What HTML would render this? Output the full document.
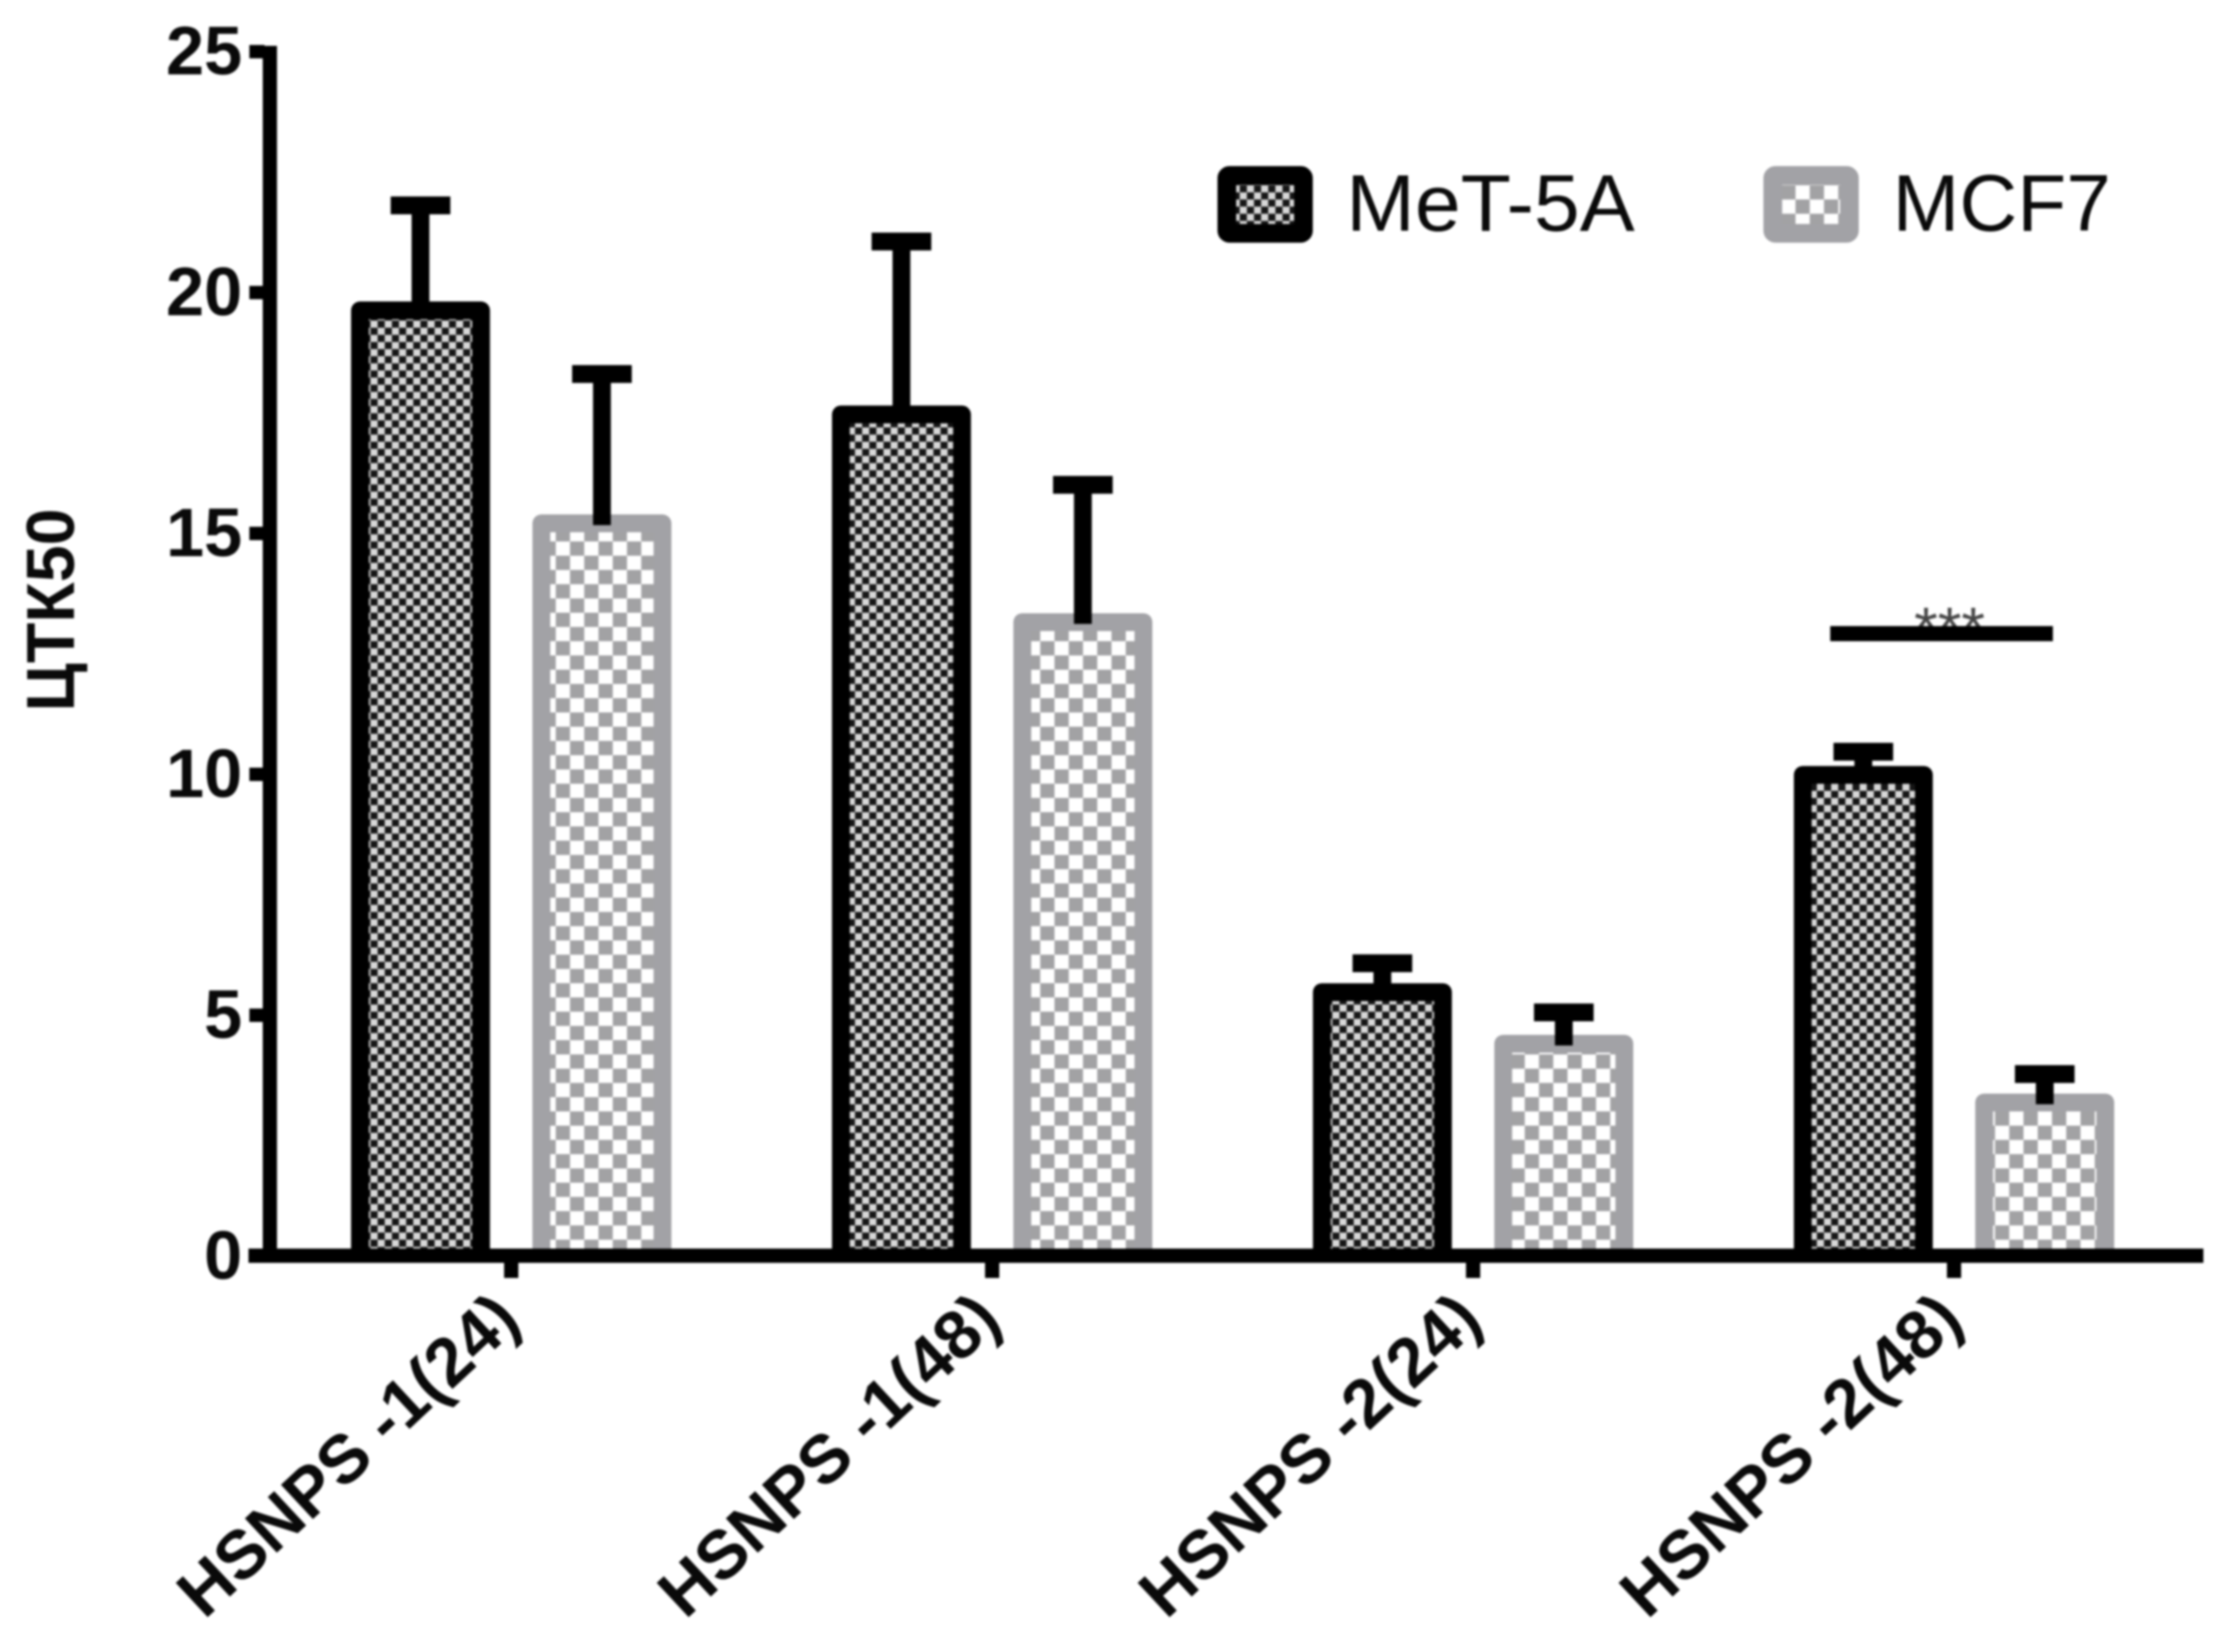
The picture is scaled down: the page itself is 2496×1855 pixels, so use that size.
<!DOCTYPE html>
<html lang="en">
<head>
<meta charset="utf-8">
<title>CTK50 bar chart</title>
<style>
html,body{margin:0;padding:0;background:#fff;width:2496px;height:1855px;overflow:hidden}
svg{display:block;filter:blur(1.2px)}
text{font-family:"Liberation Sans",Arial,sans-serif;fill:#0a0a0a}
</style>
</head>
<body>
<svg id="chart" xmlns="http://www.w3.org/2000/svg" width="2496" height="1855" viewBox="0 0 2496 1855">
  <defs>
    <pattern id="dark-check" patternUnits="userSpaceOnUse" width="16" height="16">
      <rect width="16" height="16" fill="#d8d8d8"/>
      <rect width="8" height="8" fill="#161616"/>
      <rect x="8" y="8" width="8" height="8" fill="#161616"/>
    </pattern>
    <pattern id="light-check" patternUnits="userSpaceOnUse" width="32" height="32">
      <rect width="32" height="32" fill="#ffffff"/>
      <rect width="16" height="16" fill="#a2a2a4"/>
      <rect x="16" y="16" width="16" height="16" fill="#a2a2a4"/>
    </pattern>
  </defs>
  <rect width="2496" height="1855" fill="#fff"/>
  <g id="bars"></g>
  <g id="errors"></g>
  <g id="axes"></g>

  <text transform="translate(83,685) rotate(-90)" text-anchor="middle" font-size="76" font-weight="700" textLength="228" lengthAdjust="spacingAndGlyphs">ЦТК50</text>

  <g>
    <text x="2189" y="729" text-anchor="middle" font-size="68" font-weight="400" style="fill:#444">***</text>
    <rect x="2055" y="703" width="250" height="17" fill="#000"/>
  </g>

  <g>
    <g>
      <rect x="1377.5" y="197" width="86" height="65" rx="3" fill="url(#dark-check)" stroke="#000" stroke-width="21" stroke-linejoin="round"/>
      <text x="1511.5" y="259" font-size="90" textLength="324" lengthAdjust="spacingAndGlyphs">MeT-5A</text>
    </g>
    <g>
      <rect x="1990.5" y="197" width="86" height="65" rx="3" fill="url(#light-check)" stroke="#a2a2a6" stroke-width="21" stroke-linejoin="round"/>
      <text x="2125" y="259" font-size="90">MCF7</text>
    </g>
  </g>
</svg>
<script>
const categories = ['HSNPS -1(24)', 'HSNPS -1(48)', 'HSNPS -2(24)', 'HSNPS -2(48)'];
const metValues = [19.62, 17.46, 5.47, 9.98];
const metErrors = [2.18, 3.59, 0.6, 0.48];
const mcf7Values = [15.2, 13.15, 4.4, 3.18];
const mcf7Errors = [3.1, 2.85, 0.65, 0.59];
const yTicks = [0, 5, 10, 15, 20, 25];

const NS = 'http://www.w3.org/2000/svg';
const Y0 = 1410, UNIT = 54.1, X0 = 574, GROUP_STEP = 540, SERIES_STEP = 203.7;
const BAR_HALF = 68, BAR_STROKE = 20, CAP_W = 67, CAP_H = 20, STEM_W = 20;

function yScale(v) { return Y0 - v * UNIT; }
function groupX(i) { return X0 + i * GROUP_STEP; }
function barX(i, s) { return groupX(i) + (s - 0.5) * SERIES_STEP; }
function make(tag, attrs, parent) {
  const el = document.createElementNS(NS, tag);
  for (const k in attrs) el.setAttribute(k, attrs[k]);
  parent.appendChild(el);
  return el;
}

const barsG = document.getElementById('bars');
const errG = document.getElementById('errors');
const axesG = document.getElementById('axes');

const seriesList = [
  { key: 'met-5a', values: metValues, errors: metErrors, fill: 'url(#dark-check)', stroke: '#000' },
  { key: 'mcf7', values: mcf7Values, errors: mcf7Errors, fill: 'url(#light-check)', stroke: '#a2a2a6' }
];

seriesList.forEach(function (series, s) {
  series.values.forEach(function (v, i) {
    const cx = barX(i, s);
    const top = yScale(v);
    const base = yScale(0);
    const bar = make('path', {
      d: 'M' + (cx - BAR_HALF) + ',' + base + ' V' + top + ' H' + (cx + BAR_HALF) + ' V' + base,
      fill: series.fill, stroke: series.stroke, 'stroke-width': BAR_STROKE, 'stroke-linejoin': 'round'
    }, barsG);
    
    

    const errTop = yScale(v + series.errors[i]);
    const stem = make('rect', {
      x: cx - STEM_W / 2, y: errTop, width: STEM_W, height: top - errTop + 2, fill: '#000'
    }, errG);
    
    
    const cap = make('rect', {
      x: cx - CAP_W / 2, y: errTop - CAP_H / 2, width: CAP_W, height: CAP_H, fill: '#000'
    }, errG);
    
    
  });
});

const yAxisTop = yScale(yTicks[yTicks.length - 1]) - 6;
const yAxisLine = make('rect', { x: 295, y: yAxisTop, width: 16, height: yScale(0) + 8 - yAxisTop, fill: '#000' }, axesG);


const xAxisLine = make('rect', { x: 279, y: yScale(0) - 8, width: 2195, height: 16, fill: '#000' }, axesG);



yTicks.forEach(function (t) {
  const tick = make('rect', { x: 280, y: yScale(t) - 7, width: 17, height: 15, fill: '#000' }, axesG);
  
  
  const label = make('text', { x: 272, y: yScale(t) + 26, 'text-anchor': 'end', 'font-size': 77, 'font-weight': 700 }, axesG);
  label.textContent = String(t);
  
  
});

categories.forEach(function (c, i) {
  const x = groupX(i);
  const tick = make('rect', { x: x - 8, y: yScale(0) + 6, width: 16, height: 19, fill: '#000' }, axesG);
  
  
  const label = make('text', {
    transform: 'translate(' + (x + 13) + ',1486) rotate(-43)',
    'text-anchor': 'end', 'font-size': 76.5, 'font-weight': 700
  }, axesG);
  label.textContent = c;
  
  
});
</script>
</body>
</html>
